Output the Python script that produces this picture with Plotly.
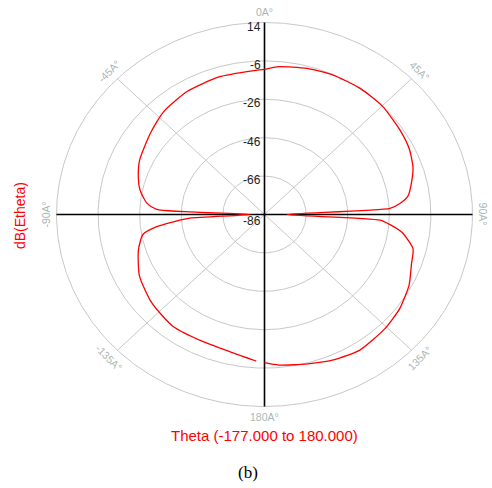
import numpy as np
import plotly.graph_objects as go

# ---- data ----
theta_deg = [-177, -167, -156, -143, -136, -129, -118, -107, -100, -97, -95, -93, -90,
             -87, -84, -78, -73, -65, -52, -42, -30, -17, -4, 0, 5, 15, 24, 35, 45,
             56, 64, 71, 76, 82, 85, 87, 90, 93, 95, 98, 104, 110, 118, 127, 136,
             147, 156, 165, 175, 180]
etheta_db = [-9.6, -12.6, -13.5, -13.0, -14.1, -15.2, -17.9, -22.6, -26.7, -33.8, -42.0, -50.1, -79.0,
             -34.1, -29.1, -24.8, -22.6, -19.7, -16.6, -13.7, -11.9, -11.1, -10.9, -10.4, -8.7, -7.2, -6.2, -5.8, -6.0,
             -7.4, -8.5, -10.5, -13.0, -16.3, -20.7, -25.6, -75.2, -30.4, -25.4, -19.3, -12.4, -10.8, -7.3, -4.6, -3.0,
             -1.8, -3.3, -5.5, -7.3, -8.8]

radial_ticks = [14, -6, -26, -46, -66, -86]
angle_ticks = [0, 45, 90, 135, 180, -135, -90, -45]
angle_labels = ["0A°", "45A°", "90A°", "135A°", "180A°", "-135A°", "-90A°", "-45A°"]
r_min, r_max = -86, 14

# ---- geometry helpers (compass: 0 at top, clockwise) ----
def to_xy(th_deg, db):
    th = np.radians(np.asarray(th_deg, dtype=float))
    r = np.asarray(db, dtype=float) - r_min
    return r * np.sin(th), r * np.cos(th)

W, H = 492, 488
cx, cy = 264.5, 214.5      # pixel centre
sx, sy = 2.08, 1.92        # pixels per unit
xr = [-cx / sx, (W - cx) / sx]
yr = [-(H - cy) / sy, cy / sy]

fig = go.Figure()

grid_col = "#c8c8c8"
t = np.linspace(0, 2 * np.pi, 721)
for v in radial_ticks[:-1]:
    rr = v - r_min
    fig.add_trace(go.Scatter(x=rr * np.sin(t), y=rr * np.cos(t), mode="lines",
                             line=dict(color=grid_col, width=1), hoverinfo="skip", showlegend=False))
for a in [45, 135, -135, -45]:
    x, y = to_xy([a, a], [r_min, r_max])
    fig.add_trace(go.Scatter(x=x, y=y, mode="lines", line=dict(color=grid_col, width=1),
                             hoverinfo="skip", showlegend=False))
for a in [0, 90]:
    x, y = to_xy([a, a + 180], [r_max, r_max])
    fig.add_trace(go.Scatter(x=x, y=y, mode="lines", line=dict(color="#000000", width=1.6),
                             hoverinfo="skip", showlegend=False))

x, y = to_xy(theta_deg, etheta_db)
fig.add_trace(go.Scatter(x=x, y=y, mode="lines",
                         line=dict(color="#ff0000", width=1.3, shape="spline", smoothing=0.6),
                         name="dB(Etheta)", showlegend=False))

ann = []
for v in radial_ticks:
    ann.append(dict(x=0, y=v - r_min, xref="x", yref="y", text=str(v), showarrow=False,
                    xanchor="right", yanchor="middle", xshift=-2, yshift=-4 if v != r_min else -6,
                    font=dict(family="Liberation Sans, Arial", size=12, color="#222222")))
for a, lab in zip(angle_ticks, angle_labels):
    lx, ly = to_xy([a], [r_max + 5.5])
    ang = a if -90 <= a <= 90 else (a - 180 if a > 0 else a + 180)
    ann.append(dict(x=float(lx[0]), y=float(ly[0]), xref="x", yref="y", text=lab, showarrow=False,
                    textangle=ang, xanchor="center", yanchor="middle",
                    font=dict(family="Liberation Sans, Arial", size=10.5, color="#aab6b6")))
ann.append(dict(x=20 / W, y=1 - 216 / H, xref="paper", yref="paper", text="dB(Etheta)",
                showarrow=False, textangle=-90, xanchor="center", yanchor="middle",
                font=dict(family="Liberation Sans, Arial", size=14, color="#ff0000")))
ann.append(dict(x=264 / W, y=1 - 435 / H, xref="paper", yref="paper",
                text="Theta (-177.000 to 180.000)", showarrow=False, xanchor="center", yanchor="middle",
                font=dict(family="Liberation Sans, Arial", size=15, color="#ff0000")))
ann.append(dict(x=247.5 / W, y=1 - 472 / H, xref="paper", yref="paper", text="(b)",
                showarrow=False, xanchor="center", yanchor="middle",
                font=dict(family="Liberation Serif, Times New Roman", size=17, color="#000000")))

fig.update_layout(
    width=W, height=H, margin=dict(l=0, r=0, t=0, b=0),
    paper_bgcolor="white", plot_bgcolor="white",
    xaxis=dict(range=xr, visible=False, fixedrange=True),
    yaxis=dict(range=yr, visible=False, fixedrange=True),
    annotations=ann, showlegend=False,
)
fig.write_html("out.html")
